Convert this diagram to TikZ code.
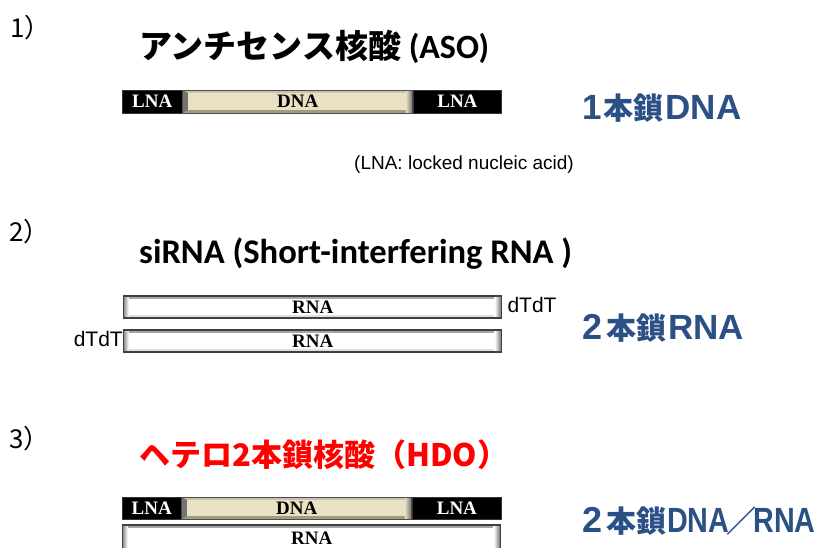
\documentclass[tikz,border=0pt]{standalone}
\usepackage{graphicx}
\usepackage{fontspec}
\newfontfamily\jpfont{Noto Sans CJK JP}
\newfontfamily\carlfont{Carlito}
\newfontfamily\libsfont{Liberation Sans}
\newfontfamily\tmsfont{Liberation Serif}
\definecolor{lblue}{HTML}{2A5085}
\definecolor{beige}{HTML}{E9E1C3}
\definecolor{beigedark}{HTML}{A39B7E}
\newcommand{\latfont}[2]{{\libsfont\bfseries\fontsize{#1}{#1}\selectfont #2}}
\newcommand{\latnarrow}[2]{\scalebox{0.82}[1]{\libsfont\bfseries\fontsize{#1}{#1}\selectfont #2}}
\newcommand{\jpsize}[2]{{\jpfont\bfseries\fontsize{#1}{#1}\selectfont #2}}
\begin{document}
\begin{tikzpicture}[x=1pt,y=-1pt,
  num/.style={anchor=west,inner sep=0pt,font=\jpfont\fontsize{26}{28}\selectfont},
  title/.style={anchor=west,inner sep=0pt,font=\jpfont\bfseries\fontsize{33}{36}\selectfont},
  kind/.style={anchor=west,inner sep=0pt,text=lblue},
  dt/.style={inner sep=0pt,font=\libsfont\fontsize{21}{23}\selectfont},
  barbase/.style={inner sep=0pt,minimum height=23pt,anchor=west,font=\tmsfont\bfseries\fontsize{19}{19}\selectfont},
  lnabox/.style={barbase,fill=black,draw=black!80,text=white},
  dnabox/.style={barbase,minimum width=230pt,fill=beige,draw=black!70,line width=0.8pt,
    path picture={
      \fill[beigedark] ([yshift=3pt]path picture bounding box.south west) rectangle (path picture bounding box.south east);
      \fill[beigedark!60] ([yshift=-1pt]path picture bounding box.north west) rectangle ([yshift=-2.5pt]path picture bounding box.north east);
      \shade[left color=beige,right color=black!60] ([xshift=-7pt]path picture bounding box.south east) rectangle (path picture bounding box.north east);
      \fill[black!55] (path picture bounding box.north west) -- ([xshift=5pt,yshift=-3pt]path picture bounding box.north west) -- ([xshift=5pt,yshift=3pt]path picture bounding box.south west) -- (path picture bounding box.south west) -- cycle;
    }},
  rnabox/.style={barbase,minimum width=378pt,minimum height=22pt,fill=white,draw=black!75,line width=1.3pt,
    path picture={
      \fill[black!35] ([yshift=-1pt]path picture bounding box.north west) rectangle ([yshift=-3pt]path picture bounding box.north east);
      \fill[black!12] ([yshift=3pt]path picture bounding box.south west) rectangle (path picture bounding box.south east);
      \shade[left color=black!45,right color=white] (path picture bounding box.south west) rectangle ([xshift=5pt]path picture bounding box.north west);
      \shade[left color=white,right color=black!60] ([xshift=-7pt]path picture bounding box.south east) rectangle (path picture bounding box.north east);
    }}
]
\useasboundingbox (0,0) rectangle (826,547);
\fill[white] (0,0) rectangle (826,547);

% 1)
\node[num] (n1) at (10,28) {1）};
\node[title] (t1) at (139,47) {アンチセンス核酸 {\carlfont\fontsize{34}{36}\selectfont (ASO)}};
\node[lnabox,minimum width=60pt] (a1) at (122,101.5) {LNA};
\node[dnabox] (a2) at (a1.east) {DNA};
\node[lnabox,minimum width=88pt] (a3) at (a2.east) {LNA};
\node[kind] (k1) at (582,108) {\latfont{35}{1}\hspace{2pt}\jpsize{30}{本鎖}\hspace{2pt}\latfont{35}{DNA}};
\node[anchor=west,inner sep=0pt,font=\libsfont\fontsize{19}{20}\selectfont] (note) at (354,165) {(LNA: locked nucleic acid)};

% 2)
\node[num] (n2) at (9,232) {2）};
\node[anchor=base west,inner sep=0pt,font=\carlfont\bfseries\fontsize{34.6}{36}\selectfont] (t2) at (139,263) {siRNA (Short-interfering RNA )};
\node[rnabox] (r1) at (123,307) {RNA};
\node[rnabox] (r2) at (123,341) {RNA};
\node[dt,anchor=west] (d1) at ([xshift=5pt,yshift=2pt]r1.east) {dTdT};
\node[dt,anchor=east] (d2) at ([yshift=2pt]r2.west) {dTdT};
\node[kind] (k2) at (582,328) {\latfont{36}{2}\hspace{4pt}\jpsize{30}{本鎖}\hspace{2pt}\latfont{35}{RNA}};

% 3)
\node[num] (n3) at (9,439) {3）};
\node[title,text=red,font=\jpfont\bfseries\fontsize{31}{34}\selectfont] (t3) at (139,455) {ヘテロ2本鎖核酸（HDO）};
\node[lnabox,minimum width=59pt,minimum height=22pt] (c1) at (122,508) {LNA};
\node[dnabox,minimum height=22pt] (c2) at (c1.east) {DNA};
\node[lnabox,minimum width=89pt,minimum height=22pt] (c3) at (c2.east) {LNA};
\node[rnabox,minimum height=26pt] (r3) at (122,538) {RNA};
\node[kind] (k3) at (582,521) {\latfont{36}{2}\hspace{4pt}\jpsize{30}{本鎖}\hspace{1pt}\latnarrow{35}{DNA}\hspace{-3pt}\jpsize{30}{／}\hspace{-3pt}\latnarrow{35}{RNA}};
\end{tikzpicture}
\end{document}
